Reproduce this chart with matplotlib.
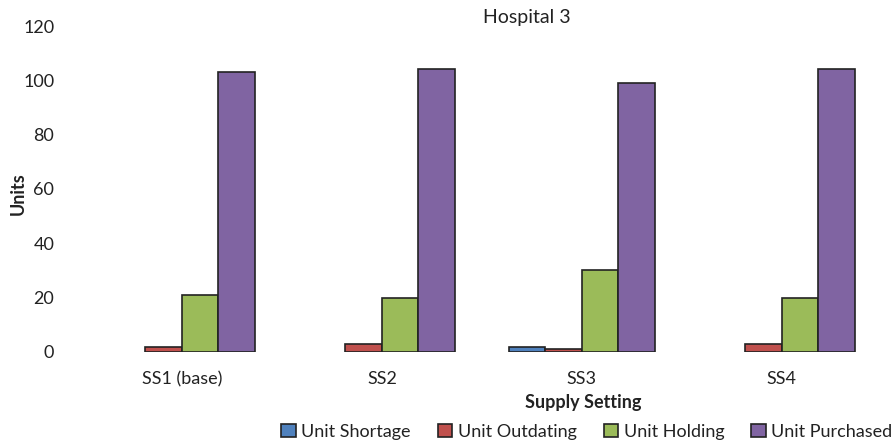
import numpy as np
import matplotlib.pyplot as plt

plt.rcParams['font.family'] = ['Lato', 'DejaVu Sans']

settings = ['SS1 (base)', 'SS2', 'SS3', 'SS4']
series = ['Unit Shortage', 'Unit Outdating', 'Unit Holding', 'Unit Purchased']
shortage = [0, 0, 2, 0]
outdating = [2, 3, 1, 3]
holding = [21, 20, 30, 20]
purchased = [103, 104, 99, 104]
colors = ['#4F81BD', '#C0504D', '#9BBB59', '#8064A2']

fig = plt.figure(figsize=(8.96, 4.46), dpi=100)
ax = fig.add_axes([0.0915, 0.2108, 0.8925, 0.7309])

x = np.arange(len(settings))
width = 0.1825
for i, (name, vals) in enumerate(zip(series, [shortage, outdating, holding, purchased])):
    # zero-valued bars get no outline so they don't show up as a flat line
    lw = [1.2 if v > 0 else 0 for v in vals]
    ax.bar(x + (i - 1.5) * width, vals, width, color=colors[i],
           edgecolor='#222222', linewidth=lw, label=name)

ax.set_xlim(-0.5, 3.5)
ax.set_ylim(0, 120)
ax.set_yticks(range(0, 121, 20))
ax.set_xticks(x)
ax.set_xticklabels(settings)
for s in ax.spines.values():
    s.set_visible(False)
ax.tick_params(length=0, labelsize=13, colors='#222222')
ax.tick_params(axis='x', pad=14)
ax.tick_params(axis='y', pad=20)

fig.text(0.588, 0.942, 'Hospital 3', ha='center', va='bottom', fontsize=14, color='#222222')
fig.text(0.651, 0.098, 'Supply Setting', ha='center', va='center', fontsize=13,
         fontweight='bold', color='#222222')
fig.text(0.02, 0.565, 'Units', ha='center', va='center', rotation=90, fontsize=13,
         fontweight='bold', color='#222222')

leg = fig.legend(loc='center', bbox_to_anchor=(0.655, 0.032), ncol=4, frameon=False,
                 fontsize=13, handlelength=0.8, handleheight=0.8, handletextpad=0.3,
                 columnspacing=1.5, labelcolor='#222222')
for h in leg.legend_handles:
    h.set_linewidth(1.2)
    h.set_edgecolor('#222222')

fig.savefig('out.png', dpi=100)
